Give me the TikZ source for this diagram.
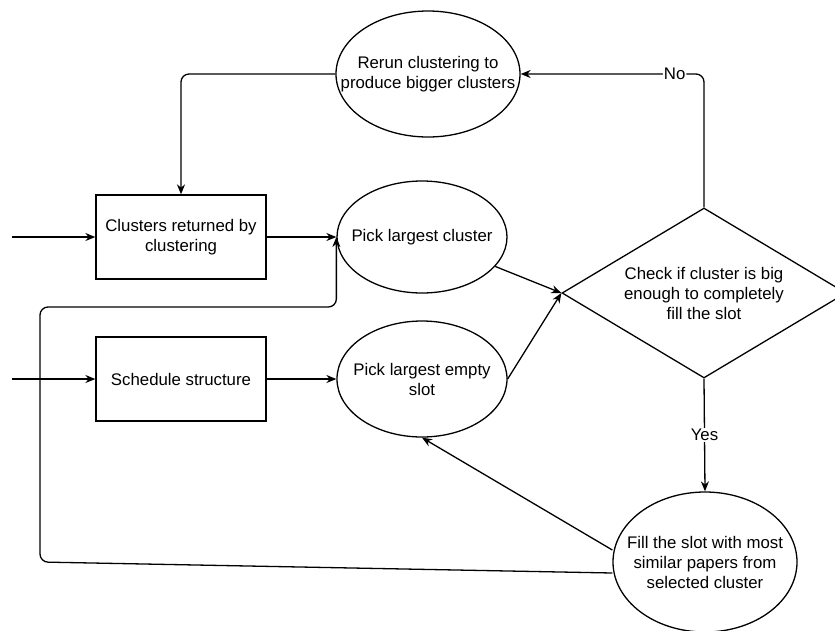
\documentclass[tikz,border=0pt]{standalone}
\usepackage{fontspec}
\setmainfont{Liberation Sans}
\usetikzlibrary{arrows.meta, positioning, shapes.geometric}

\begin{document}
\begin{tikzpicture}[>={Stealth[length=10pt,width=8pt]}, x=1pt, y=-1pt, line width=1.3pt,
  every node/.style={font=\fontsize{16.8}{20}\selectfont, align=center},
  box/.style={rectangle, draw, minimum width=170pt, minimum height=84pt},
  oval/.style={ellipse, draw, inner xsep=-40pt, inner ysep=-25pt},
  check/.style={diamond, draw, inner sep=0pt, aspect=1.7, minimum width=284pt, minimum height=170pt},
  lbl/.style={fill=white, inner sep=1pt}]

\useasboundingbox (0,0) rectangle (835,630);

% Inputs
\coordinate (in1) at (12,237);
\coordinate (in2) at (12,379);

% Boxes
\node[box] (clusters) at (181,237) {Clusters returned by\\clustering};
\node[box] (schedule) at (181,379) {Schedule structure};

% Ellipses
\node[oval, minimum width=184pt, minimum height=126pt] (rerun) at (428,74) {Rerun clustering to\\produce bigger clusters};
\node[oval, minimum width=170pt, minimum height=112pt] (pickcluster) at (422,237) {Pick largest cluster};
\node[oval, minimum width=170pt, minimum height=116pt] (pickslot) at (422,379) {Pick largest empty\\slot};
\node[oval, minimum width=184pt, minimum height=140pt] (fillslot) at (705,562) {Fill the slot with most\\similar papers from\\selected cluster};

% Decision
\node[check] (test) at (704,293) {Check if cluster is big\\enough to completely\\fill the slot};

% Loop corners
\coordinate (loopbot) at (40,562);
\coordinate (looptop) at (40,307);

% Connections
\draw[->] (in1) -- (clusters);
\draw[->] (in2) -- (schedule);
\draw[->] (clusters) -- (pickcluster);
\draw[->] (schedule) -- (pickslot);

\draw[->] (pickcluster) -- (test.west);
\draw[->] (pickslot.east) -- (test.west);

\draw[->, rounded corners=8pt] (test.north) |- node[lbl, pos=0.58] {No} (rerun.east);
\draw[->, rounded corners=8pt] (rerun.west) -| (clusters.north);

\draw[->] (test.south) -- node[lbl] {Yes} (fillslot.north);
\draw[->] ([yshift=12pt]fillslot.west) -- (pickslot.south);
\draw[->, rounded corners=8pt] ([yshift=-11pt]fillslot.west) -- (loopbot) -- (looptop) -| (pickcluster.west);

\end{tikzpicture}
\end{document}
